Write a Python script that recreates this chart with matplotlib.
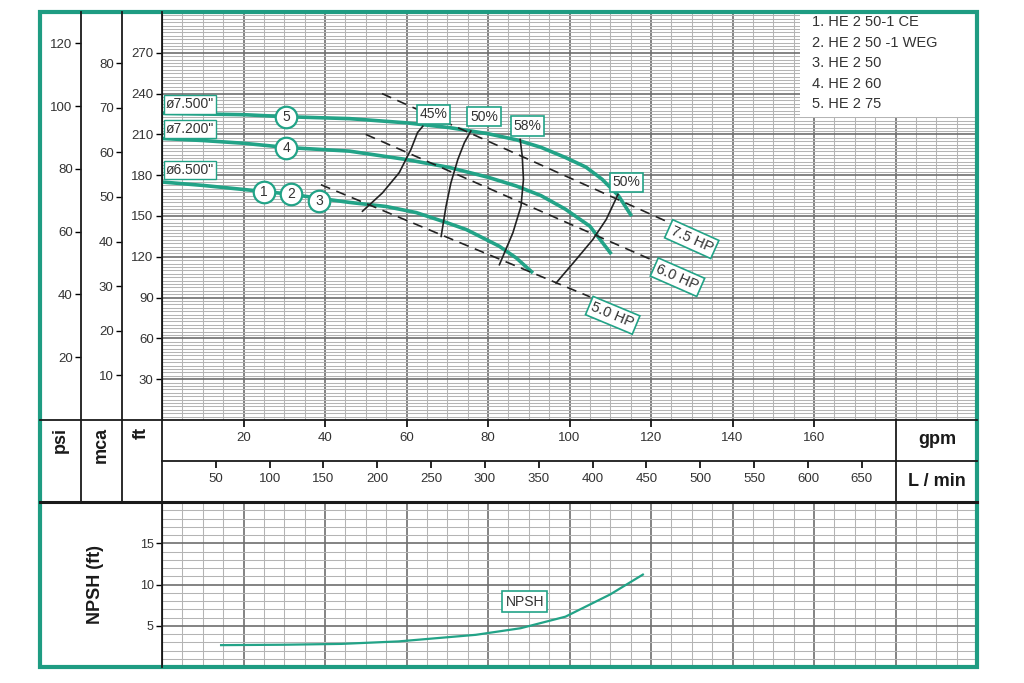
from math import atan2, degrees
import numpy as np
import matplotlib.pyplot as plt
from matplotlib.patches import Rectangle

plt.rcParams['font.family'] = ['Liberation Sans', 'DejaVu Sans']

W, H = 1024, 683
teal = '#22a387'
frame_col = '#1e9c82'
txt = '#333333'

# curves: flow (gpm) / head (ft)
q5 = [0, 10, 20, 30.5, 46, 60, 70.5, 80, 87, 93, 99, 104, 108, 112, 115]
h5 = [225.5, 225, 224.5, 223, 221.6, 218.5, 215, 210.5, 206, 200.5, 193, 186, 177, 165, 151]
q4 = [0, 10, 20, 30.5, 46, 60, 70.5, 80, 87, 93, 99, 105, 110]
h4 = [207, 205.5, 203.5, 200.4, 197.7, 191.5, 185.7, 178.5, 172, 165, 155, 142.5, 123]
q1 = [0, 10, 25, 31.7, 38.6, 46, 55, 62.4, 70, 74.7, 80, 82.8, 87, 90.7]
h1 = [175, 172.5, 168, 166, 163, 160, 157, 152.5, 145, 140, 132, 127.7, 119, 109]

diam_labels = ['ø7.500"', 'ø7.200"', 'ø6.500"']
diam_y = [232, 213.7, 184]

circ_num = ['1', '2', '3', '4', '5']
circ_q = [25, 31.7, 38.6, 30.5, 30.5]
circ_h = [168, 166, 161, 200.2, 222.8]

# power lines
hp_labels = ['7.5 HP', '6.0 HP', '5.0 HP']
hp_q = [[54, 124.6], [50, 120], [39, 105]]
hp_h = [[240, 145], [210, 118], [173, 90.6]]
hp_lab_q = [130, 126.5, 110.6]
hp_lab_h = [133, 105, 77]

# efficiency curves
eff_labels = ['45%', '50%', '58%', '50%']
eff_q = [[49.2, 54.1, 58.2, 61.1, 62.7, 64],
         [68.5, 69.7, 70.9, 72.6, 74.2, 75.8],
         [82.8, 86.1, 88.1, 88.7, 88.4, 87.9],
         [96.7, 101.6, 105.7, 109, 111.9]]
eff_h = [[153.5, 167, 181.8, 199, 211.3, 216],
         [135, 157.2, 174.4, 191.6, 203.9, 212.5],
         [114.2, 137.6, 157.2, 176.9, 194, 206.3],
         [100.7, 117.9, 132.6, 147.4, 165.8]]
eff_lab_q = [66.6, 79, 89.7, 114]
eff_lab_h = [224.7, 223, 216, 174.7]

npsh_q = [14.5, 30, 44, 58, 77, 88, 99, 110, 118]
npsh_v = [2.65, 2.7, 2.8, 3.1, 3.9, 4.7, 6.1, 8.8, 11.2]

models = ['1. HE 2 50-1 CE', '2. HE 2 50 -1 WEG', '3. HE 2 50', '4. HE 2 60', '5. HE 2 75']

gpm_ticks = [20, 40, 60, 80, 100, 120, 140, 160]
lpm_ticks = [50, 100, 150, 200, 250, 300, 350, 400, 450, 500, 550, 600, 650]
ft_ticks = [30, 60, 90, 120, 150, 180, 210, 240, 270]
psi_ticks = [20, 40, 60, 80, 100, 120]
mca_ticks = [10, 20, 30, 40, 50, 60, 70, 80]
npsh_ticks = [5, 10, 15]


def px(l, t, r, b):
    return [l / W, 1 - b / H, (r - l) / W, (b - t) / H]


def set_grid(a, ymaj, ymin):
    a.set_xticks(np.arange(0, 201, 20))
    a.set_xticks(np.arange(0, 201, 5), minor=True)
    a.set_yticks(np.arange(ymaj[0], ymaj[1], ymaj[2]))
    a.set_yticks(np.arange(ymin[0], ymin[1], ymin[2]), minor=True)
    a.grid(which='minor', color='#b4b4b4', lw=0.75)
    a.grid(which='major', color='#6e6e6e', lw=1.2)
    a.set_axisbelow(True)
    a.tick_params(which='minor', length=0)
    a.tick_params(axis='x', which='both', length=0, labelbottom=False)
    a.tick_params(axis='y', which='major', direction='out', length=4, width=1,
                  labelsize=9.5, labelcolor=txt, pad=2)
    for s in ['top', 'right', 'bottom']:
        a.spines[s].set_visible(False)


fig = plt.figure(figsize=(W / 100, H / 100), dpi=100)
fig.patch.set_facecolor('white')

# main head chart
ax = fig.add_axes(px(162, 12, 977, 420))
ax.set_xlim(0, 200)
ax.set_ylim(0, 300)
set_grid(ax, (0, 301, 30), (0, 301, 2.5))
ax.set_yticks(ft_ticks)

ax.plot(q5, h5, c=teal, lw=2.6, zorder=3)
ax.plot(q4, h4, c=teal, lw=2.6, zorder=3)
ax.plot(q1, h1, c=teal, lw=2.6, zorder=3)

for lab, y in zip(diam_labels, diam_y):
    ax.text(1, y, lab, fontsize=10, color=txt, ha='left', va='center', zorder=6,
            bbox=dict(boxstyle='square,pad=0.15', fc='white', ec=teal, lw=1))

ax.scatter(circ_q, circ_h, s=240, c='white', edgecolors=teal, linewidths=1.6, zorder=5)
for n, q, h in zip(circ_num, circ_q, circ_h):
    ax.text(q, h, n, fontsize=10, color=txt, ha='center', va='center', zorder=6)

for lab, qq, hh, lq, lh in zip(hp_labels, hp_q, hp_h, hp_lab_q, hp_lab_h):
    ax.plot(qq, hh, c='#222222', lw=1.2, ls=(0, (6, 4)), zorder=4)
    p1 = ax.transData.transform((qq[0], hh[0]))
    p2 = ax.transData.transform((qq[1], hh[1]))
    ang = degrees(atan2(p2[1] - p1[1], p2[0] - p1[0]))
    ax.text(lq, lh, lab, fontsize=10.5, color=txt, ha='center', va='center',
            rotation=ang, rotation_mode='anchor', zorder=6,
            bbox=dict(boxstyle='square,pad=0.2', fc='white', ec=teal, lw=1.2))

for lab, qq, hh, lq, lh in zip(eff_labels, eff_q, eff_h, eff_lab_q, eff_lab_h):
    ax.plot(qq, hh, c='#222222', lw=1.2, zorder=4)
    ax.text(lq, lh, lab, fontsize=10, color=txt, ha='center', va='center', zorder=6,
            bbox=dict(boxstyle='square,pad=0.2', fc='white', ec=teal, lw=1.2))

# model list box
ax.add_patch(Rectangle((0.783, 0.742), 0.217, 0.258, transform=ax.transAxes,
                       fc='white', ec='none', zorder=7))
for i, m in enumerate(models):
    ax.text(0.7975, (420 - 22 - i * 20.6) / 408, m, transform=ax.transAxes,
            fontsize=10.5, color=txt, ha='left', va='center', zorder=8)

# psi and mca scales
ax_psi = fig.add_axes(px(81, 12, 122, 420))
ax_psi.set_ylim(0, 300 / 2.307)
ax_mca = fig.add_axes(px(122, 12, 162, 420))
ax_mca.set_ylim(0, 300 / 3.281)
for a, tk in [(ax_psi, psi_ticks), (ax_mca, mca_ticks)]:
    a.patch.set_alpha(0)
    a.set_xticks([])
    a.set_yticks(tk)
    a.tick_params(axis='y', direction='out', length=4, width=1, labelsize=9.5,
                  labelcolor=txt, pad=2)
    for s in a.spines.values():
        s.set_visible(False)

# flow scales
q_max = (896 - 162) / 4.075
ax_q = fig.add_axes(px(162, 420, 896, 461))
ax_q.set_xlim(0, q_max)
ax_l = fig.add_axes(px(162, 461, 896, 502))
ax_l.set_xlim(0, q_max * 3.785)
for a, tk, yl in [(ax_q, gpm_ticks, 0.56), (ax_l, lpm_ticks, 0.57)]:
    a.patch.set_alpha(0)
    a.set_ylim(0, 1)
    a.set_yticks([])
    a.set_xticks(tk)
    a.xaxis.tick_top()
    a.tick_params(axis='x', direction='in', length=5, width=1.2,
                  labeltop=False, labelbottom=False)
    for s in a.spines.values():
        s.set_visible(False)
    for v in tk:
        a.text(v, yl, str(v), fontsize=9.5, color=txt, ha='center', va='center')

# NPSH panel
ax_n = fig.add_axes(px(162, 502, 977, 667))
ax_n.set_xlim(0, 200)
ax_n.set_ylim(0, 20)
set_grid(ax_n, (0, 21, 5), (0, 21, 1))
ax_n.set_yticks(npsh_ticks)
ax_n.tick_params(axis='y', labelsize=9)
ax_n.plot(npsh_q, npsh_v, c=teal, lw=1.6, zorder=3)
ax_n.text(89, 7.9, 'NPSH', fontsize=10, color=txt, ha='center', va='center', zorder=6,
          bbox=dict(boxstyle='square,pad=0.25', fc='white', ec=teal, lw=1.2))

# frame, dividers and unit labels
ov = fig.add_axes([0, 0, 1, 1], zorder=10)
ov.set_xlim(0, W)
ov.set_ylim(H, 0)
ov.axis('off')
ov.patch.set_alpha(0)
k = '#1a1a1a'
ov.plot([81, 81], [12, 502], c=k, lw=1.3)
ov.plot([122, 122], [12, 502], c=k, lw=1.3)
ov.plot([162, 162], [12, 667], c=k, lw=1.3)
ov.plot([40, 977], [420, 420], c=k, lw=1.3)
ov.plot([162, 977], [461, 461], c=k, lw=1.3)
ov.plot([40, 977], [502, 502], c=k, lw=2.2)
ov.plot([896, 896], [420, 502], c=k, lw=1.3)
ov.add_patch(Rectangle((40, 12), 937, 655, fc='none', ec=frame_col, lw=3))

ov.text(60, 427, 'psi', rotation=90, fontsize=13, fontweight='bold', color=k,
        ha='center', va='top')
ov.text(101, 427, 'mca', rotation=90, fontsize=13, fontweight='bold', color=k,
        ha='center', va='top')
ov.text(141, 427, 'ft', rotation=90, fontsize=13, fontweight='bold', color=k,
        ha='center', va='top')
ov.text(937, 439, 'gpm', fontsize=13, fontweight='bold', color=k, ha='center', va='center')
ov.text(937, 481, 'L / min', fontsize=13, fontweight='bold', color=k, ha='center', va='center')
ov.text(95, 585, 'NPSH (ft)', rotation=90, fontsize=13, fontweight='bold', color=k,
        ha='center', va='center')

fig.savefig('out.png', dpi=100)
